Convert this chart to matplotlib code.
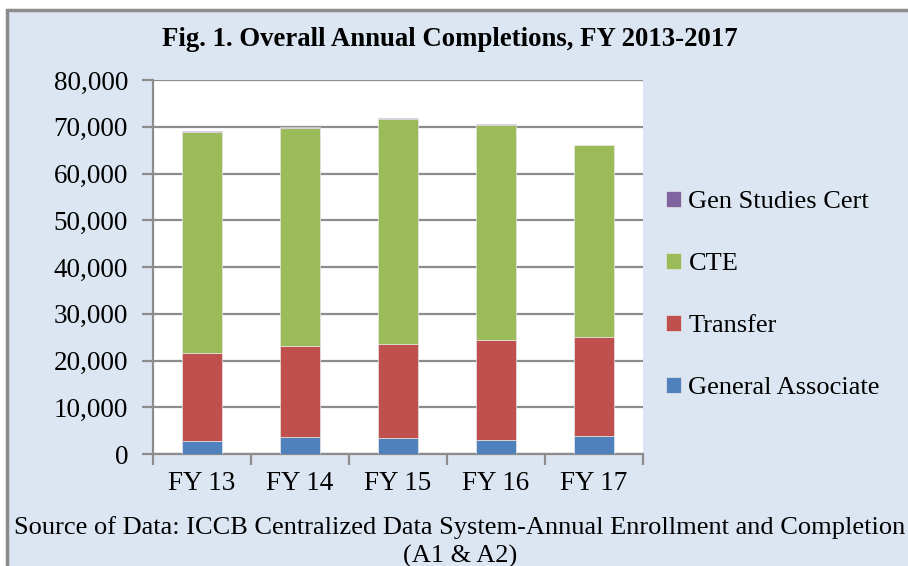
import matplotlib
matplotlib.use("Agg")
import matplotlib.pyplot as plt
from matplotlib.patches import Rectangle
from matplotlib.ticker import FuncFormatter
import numpy as np

categories = ["FY 13", "FY 14", "FY 15", "FY 16", "FY 17"]
general_associate = [2700, 3550, 3400, 3100, 3750]
transfer = [18900, 19650, 20200, 21300, 21250]
cte = [47300, 46550, 48000, 45900, 41000]
gen_studies_cert = [200, 200, 200, 200, 200]
series_names = ["General Associate", "Transfer", "CTE", "Gen Studies Cert"]
series_colors = ["#4F81BD", "#C0504D", "#9BBB59", "#8064A2"]
y_ticks = [0, 10000, 20000, 30000, 40000, 50000, 60000, 70000, 80000]

plt.rcParams['font.family'] = ['Liberation Serif', 'DejaVu Serif']

W, H = 908, 566
fig = plt.figure(figsize=(W / 100, H / 100), dpi=100, facecolor="white")
bg = "#DCE6F2"
fig.patches.append(Rectangle((7 / W, -0.1), 1.2, 1 - 10 / H + 0.1, transform=fig.transFigure,
                             facecolor=bg, edgecolor="#8C8C8C", linewidth=2.5, zorder=-5))

ax = fig.add_axes([153 / W, 1 - 454 / H, (643 - 153) / W, (454 - 80) / H])
ax.set_facecolor("white")
ax.set_zorder(2)

x = np.arange(len(categories))
data = [general_associate, transfer, cte, gen_studies_cert]
bottom = np.zeros(len(categories))
handles = []
for vals, name, col in zip(data, series_names, series_colors):
    b = ax.bar(x, vals, width=0.4, bottom=bottom, color=col, label=name,
               edgecolor="#E6E6E6", linewidth=0.5, zorder=3)
    handles.append(b)
    bottom += np.array(vals)

ax.set_xlim(-0.5, len(categories) - 0.5)
ax.set_ylim(0, 80000)
ax.set_yticks(y_ticks)
ax.yaxis.set_major_formatter(FuncFormatter(lambda v, p: f"{int(v):,}"))
ax.yaxis.grid(True, color="#8C8C8C", linewidth=1.6, zorder=1)
ax.set_axisbelow(True)

ax.set_xticks(x)
ax.set_xticklabels(categories)
ax.set_xticks(np.arange(-0.5, len(categories)), minor=True)
ax.tick_params(axis="x", which="major", length=0, pad=12, labelsize=19.5)
ax.tick_params(axis="x", which="minor", length=8, width=1.6, color="#8C8C8C", direction="out")
ax.tick_params(axis="y", length=8, width=1.6, color="#8C8C8C", direction="out", pad=10, labelsize=19.5)

for s in ["top", "right"]:
    ax.spines[s].set_visible(False)
for s in ["left", "bottom"]:
    ax.spines[s].set_color("#8C8C8C")
    ax.spines[s].set_linewidth(1.6)

fig.text(450 / W, 1 - 39 / H, "Fig. 1. Overall Annual Completions, FY 2013-2017",
         ha="center", va="center", fontsize=19.3, fontweight="bold")

leg = fig.legend(handles[::-1], series_names[::-1], loc="center left",
                 bbox_to_anchor=(666 / W, 1 - 295 / H), frameon=False, fontsize=19,
                 handlelength=0.55, handleheight=0.55, handletextpad=0.3, labelspacing=1.5,
                 borderaxespad=0, borderpad=0)

fig.text(460 / W, 1 - 528 / H,
         "Source of Data: ICCB Centralized Data System-Annual Enrollment and Completion",
         ha="center", va="center", fontsize=19)
fig.text(460 / W, 1 - 556 / H, "(A1 & A2)", ha="center", va="center", fontsize=19)

fig.savefig("out.png", dpi=100, facecolor=fig.get_facecolor())
